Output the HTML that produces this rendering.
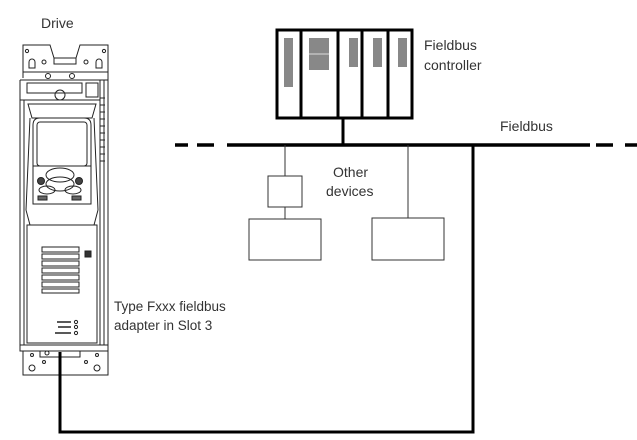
<!DOCTYPE html>
<html><head><meta charset="utf-8"><style>
html,body{margin:0;padding:0;background:#fff;}
svg{display:block;}
text{font-family:"Liberation Sans",sans-serif;fill:#333;}
</style></head><body>
<svg width="637" height="440" viewBox="0 0 637 440" xmlns="http://www.w3.org/2000/svg">
<text x="41" y="28" font-size="14">Drive</text>
<g fill="none" stroke="#222" stroke-width="1">
 <!-- top bracket -->
 <path d="M23 78 V45 H50 L54 58 H76 L80 45 H108 V78"/>
 <path d="M54 58 V64 H76 V58"/>
 <circle cx="27" cy="51" r="1.6"/><circle cx="104" cy="51" r="1.6"/>
 <circle cx="44" cy="62" r="2"/><circle cx="86" cy="62" r="2"/>
 <path d="M29 62 a3 3 0 1 1 6 0 v6 h-6z"/><path d="M96 62 a3 3 0 1 1 6 0 v6 h-6z"/>
 <line x1="23" y1="72" x2="108" y2="72"/>
 <line x1="20" y1="80" x2="108" y2="80"/>
 <circle cx="48" cy="76" r="2.5"/><circle cx="72" cy="76" r="2.5"/>
 <rect x="27" y="83" width="55" height="10"/>
 <circle cx="60" cy="95" r="5"/>
 <rect x="86" y="83" width="12" height="14"/>
 <!-- body -->
 <path d="M20 80 V345"/><path d="M24 100 V345"/>
 <path d="M100 80 V345"/><path d="M104 80 V345"/><path d="M108 78 V345"/>
 <line x1="20" y1="100" x2="100" y2="100"/>
 <!-- side connectors -->
 <path d="M100 98 h5 M100 105 h5 M100 112 h5 M100 119 h5 M100 126 h5 M100 133 h5 M100 140 h5 M100 147 h5 M100 154 h5 M100 161 h5"/>
 <!-- keypad -->
 <path d="M28 104 H96 L92 118 H32 Z"/>
 <path d="M30 118 L26 210 M94 118 L98 210"/>
 <path d="M33 166 V125 Q33 118 40 118 H84 Q91 118 91 125 V166"/>
 <rect x="37" y="122" width="50" height="44" rx="3"/>
 <ellipse cx="60" cy="175" rx="14" ry="7"/><ellipse cx="60" cy="184" rx="14" ry="7"/>
 <circle cx="41" cy="181" r="3.5" fill="#444"/><circle cx="79" cy="181" r="3.5" fill="#444"/>
 <ellipse cx="47" cy="190" rx="8" ry="4"/><ellipse cx="73" cy="190" rx="8" ry="4"/>
 <rect x="38" y="196" width="9" height="4" fill="#666"/><rect x="72" y="196" width="9" height="4" fill="#666"/>
 <rect x="33" y="166" width="58" height="38"/>
 <path d="M26 210 L30 225 H94 L98 210"/>
 <!-- lower cover -->
 <rect x="27" y="225" width="70" height="118"/>
 <g>
  <rect x="42" y="247" width="37" height="5"/><rect x="42" y="254" width="37" height="5"/>
  <rect x="42" y="261" width="37" height="5"/><rect x="42" y="268" width="37" height="5"/>
  <rect x="42" y="275" width="37" height="5"/><rect x="42" y="282" width="37" height="5"/>
  <rect x="42" y="289" width="37" height="4"/>
 </g>
 <rect x="85" y="251" width="6" height="6" fill="#333"/>
 <circle cx="76" cy="322" r="1.6"/><circle cx="76" cy="327" r="1.6"/><circle cx="76" cy="333" r="1.6"/>
 <path d="M57 322 h14 M58 327 h13 M55 333 h16" stroke-width="1.5"/>
 <!-- bottom bracket -->
 <line x1="20" y1="345" x2="108" y2="345"/>
 <rect x="20" y="345" width="88" height="6"/>
 <path d="M40 351 V357 H80 V351"/>
 <circle cx="47" cy="353" r="2"/>
 <path d="M23 351 V375 H108 V351"/>
 <circle cx="32" cy="355" r="1.5"/><circle cx="97" cy="355" r="1.5"/>
 <circle cx="44" cy="362" r="1.5"/><circle cx="86" cy="362" r="1.5"/>
 <circle cx="32" cy="368" r="3"/><circle cx="97" cy="368" r="3"/>
</g>
<!-- drive cable -->
<path d="M60 352 V432 H473 V145" fill="none" stroke="#000" stroke-width="3"/>
<text x="114" y="311" font-size="13.5">Type Fxxx fieldbus</text>
<text x="114" y="330" font-size="13.5">adapter in Slot 3</text>
<!-- bus -->
<g stroke="#000" stroke-width="3.5">
 <line x1="175" y1="145" x2="188" y2="145"/>
 <line x1="197" y1="145" x2="214" y2="145"/>
 <line x1="227" y1="145" x2="590" y2="145"/>
 <line x1="596" y1="145" x2="613" y2="145"/>
 <line x1="625" y1="145" x2="637" y2="145"/>
</g>
<!-- controller -->
<g stroke="#000" stroke-width="3" fill="none">
 <rect x="277" y="30" width="135" height="88"/>
 <line x1="301" y1="30" x2="301" y2="118"/>
 <line x1="338" y1="30" x2="338" y2="118"/>
 <line x1="362" y1="30" x2="362" y2="118"/>
 <line x1="388" y1="30" x2="388" y2="118"/>
 <line x1="343" y1="118" x2="343" y2="145"/>
</g>
<g fill="#888">
 <rect x="284" y="38" width="9" height="49"/>
 <rect x="309" y="38" width="20" height="32"/>
 <rect x="349" y="38" width="9" height="29"/>
 <rect x="373" y="38" width="9" height="29"/>
 <rect x="398" y="38" width="9" height="29"/>
</g>
<line x1="309" y1="54" x2="329" y2="54" stroke="#ddd" stroke-width="1"/>
<text x="424" y="50" font-size="14">Fieldbus</text>
<text x="424" y="70" font-size="14">controller</text>
<text x="500" y="131" font-size="14">Fieldbus</text>
<!-- other devices -->
<g stroke="#333" stroke-width="1" fill="none">
 <line x1="285" y1="145" x2="285" y2="176"/>
 <rect x="268" y="176" width="34" height="31"/>
 <line x1="285" y1="207" x2="285" y2="219"/>
 <rect x="249" y="219" width="72" height="41"/>
 <line x1="408" y1="145" x2="408" y2="218"/>
 <rect x="372" y="218" width="72" height="42"/>
</g>
<text x="333" y="177" font-size="14">Other</text>
<text x="326" y="196" font-size="14">devices</text>
</svg>
</body></html>
